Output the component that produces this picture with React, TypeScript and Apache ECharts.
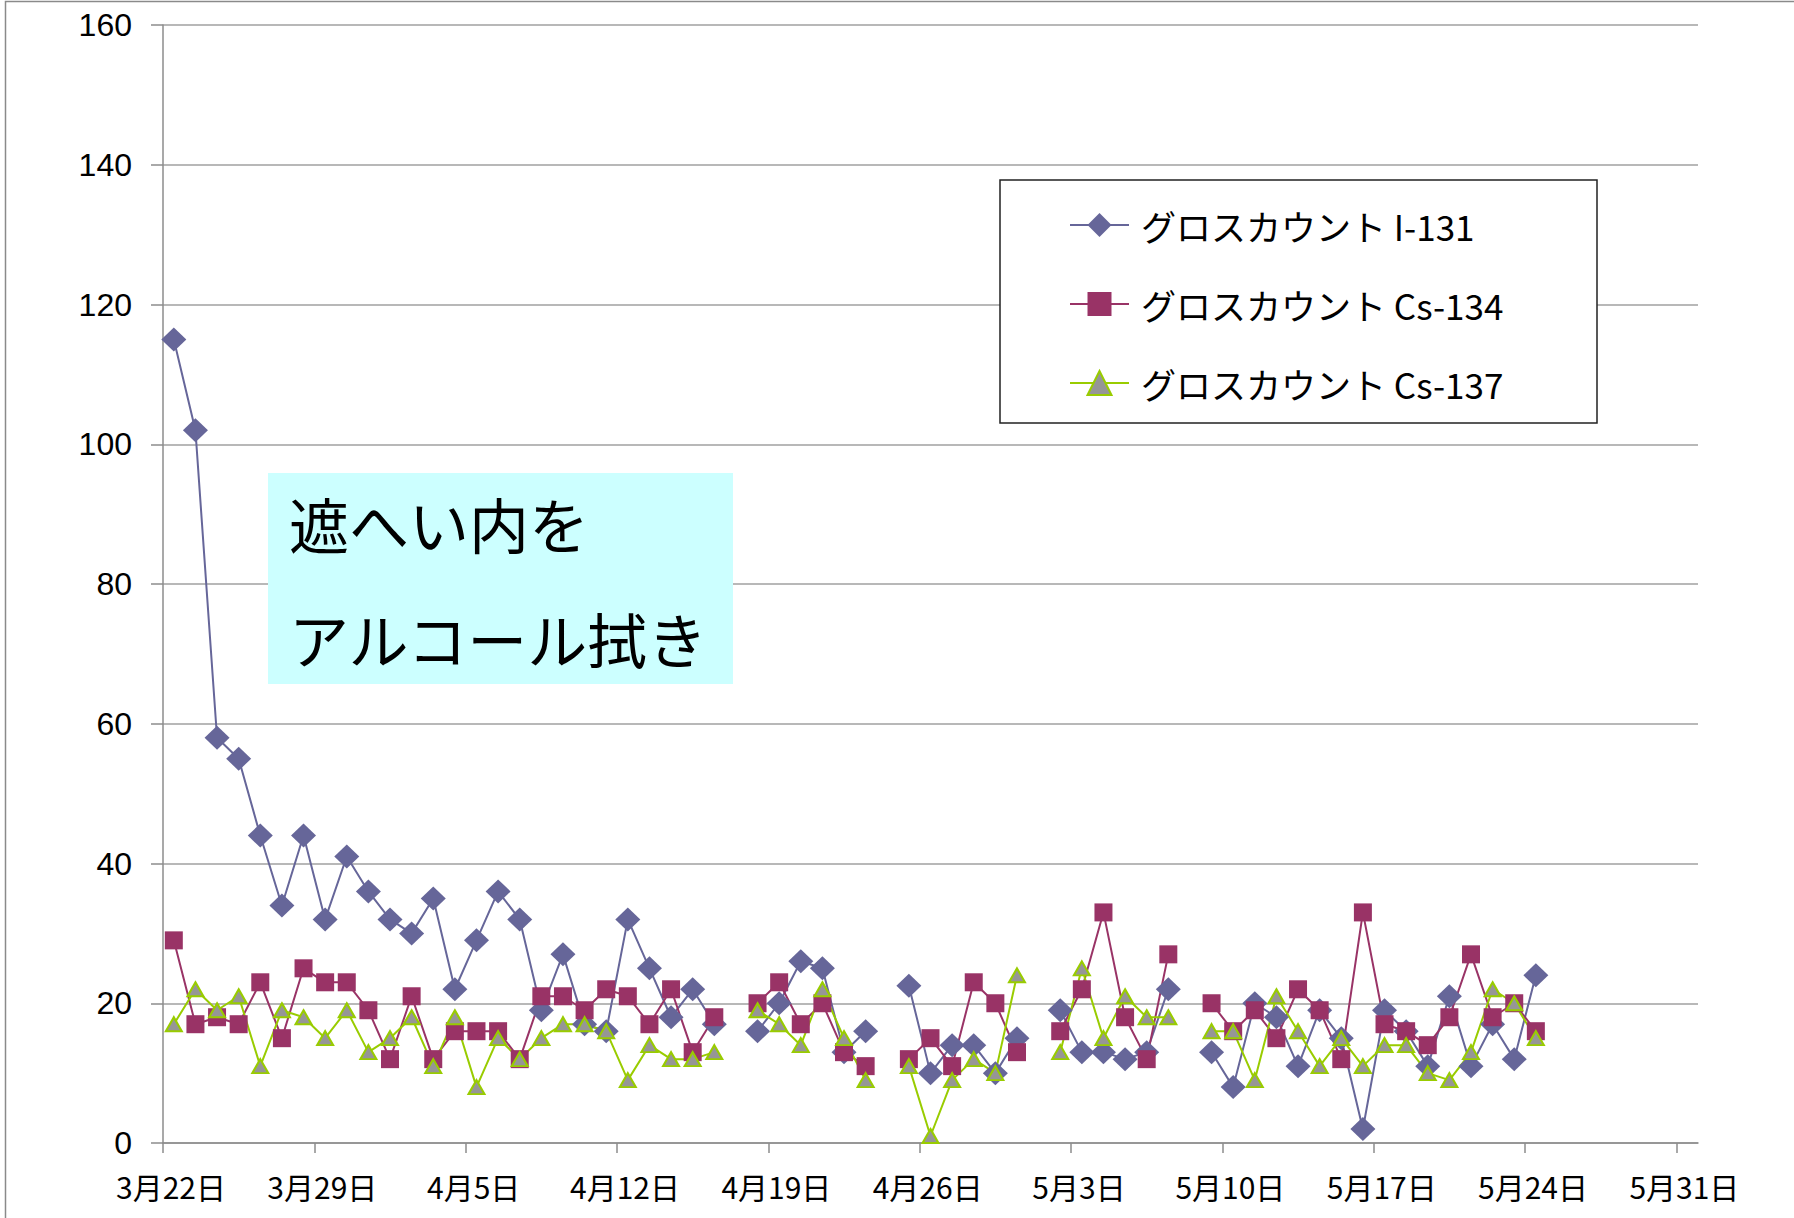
import React, { useEffect, useRef } from "react";
import * as echarts from "echarts";

// Year 2011, daily readings from 3/22 (null = no measurement that day)
const firstDay = "2011-03-22";
const axisEndDay = "2011-06-01";
const tickDates = [
  "2011-03-22", "2011-03-29", "2011-04-05", "2011-04-12", "2011-04-19", "2011-04-26",
  "2011-05-03", "2011-05-10", "2011-05-17", "2011-05-24", "2011-05-31",
];
const yTicks = [0, 20, 40, 60, 80, 100, 120, 140, 160];

const seriesNames = ["グロスカウント I-131", "グロスカウント Cs-134", "グロスカウント Cs-137"];

const i131 = [
  115, 102, 58, 55, 44, 34, 44, 32, 41, 36, 32, 30, 35, 22, 29, 36, 32, 19, 27, 17, 16, 32, 25, 18, 22, 17,
  null, 16, 20, 26, 25, 13, 16,
  null, 22.5, 10, 14, 14, 10, 15,
  null, 19, 13, 13, 12, 13, 22,
  null, 13, 8, 20, 18, 11, 19, 15, 2, 19, 16, 11, 21, 11, 17, 12, 24,
];
const cs134 = [
  29, 17, 18, 17, 23, 15, 25, 23, 23, 19, 12, 21, 12, 16, 16, 16, 12, 21, 21, 19, 22, 21, 17, 22, 13, 18,
  null, 20, 23, 17, 20, 13, 11,
  null, 12, 15, 11, 23, 20, 13,
  null, 16, 22, 33, 18, 12, 27,
  null, 20, 16, 19, 15, 22, 19, 12, 33, 17, 16, 14, 18, 27, 18, 20, 16,
];
const cs137 = [
  17, 22, 19, 21, 11, 19, 18, 15, 19, 13, 15, 18, 11, 18, 8, 15, 12, 15, 17, 17, 16, 9, 14, 12, 12, 13,
  null, 19, 17, 14, 22, 15, 9,
  null, 11, 1, 9, 12, 10, 24,
  null, 13, 25, 15, 21, 18, 18,
  null, 16, 16, 9, 21, 16, 11, 15, 11, 14, 14, 10, 9, 13, 22, 20, 15,
];

const DAY = 86400000;
const toUTC = (s: string) => {
  const [y, m, d] = s.split("-").map(Number);
  return Date.UTC(y, m - 1, d);
};

export default function App() {
  const ref = useRef<HTMLDivElement>(null);

  useEffect(() => {
    if (!ref.current) return;
    const chart = echarts.init(ref.current, undefined, { renderer: "svg" });
    const start = toUTC(firstDay);
    const toPoints = (arr: (number | null)[]) =>
      arr.map((v, i) => [start + i * DAY + DAY / 2, v === null ? null : v]);
    const ticks = tickDates.map(toUTC);
    const jp = '"Noto Sans CJK JP", sans-serif';

    chart.setOption({
      animation: false,
      backgroundColor: "#ffffff",
      grid: { left: 163, top: 25, right: 96, bottom: 75, containLabel: false },
      xAxis: {
        type: "value",
        min: start,
        max: toUTC(axisEndDay),
        axisLine: { show: true, lineStyle: { color: "#8c8c8c", width: 1.5 } },
        axisTick: { show: true, customValues: ticks, length: 10, lineStyle: { color: "#8c8c8c", width: 1.5 } },
        axisLabel: {
          customValues: ticks,
          margin: 28,
          fontSize: 30,
          fontFamily: jp,
          color: "#000",
          padding: [0, 0, 0, 16],
          formatter: (v: number) => {
            const d = new Date(v);
            return `${d.getUTCMonth() + 1}月${d.getUTCDate()}日`;
          },
        },
        splitLine: { show: false },
      },
      yAxis: {
        type: "value",
        min: yTicks[0],
        max: yTicks[yTicks.length - 1],
        interval: 20,
        axisLine: { show: true, lineStyle: { color: "#8c8c8c", width: 1.5 } },
        axisTick: { show: true, length: 12, lineStyle: { color: "#8c8c8c", width: 1.5 } },
        axisLabel: {
          margin: 31,
          fontSize: 32,
          fontFamily: '"Liberation Sans", Arial, sans-serif',
          color: "#000",
          padding: [6, 0, 0, 0],
        },
        splitLine: { show: true, lineStyle: { color: "#a0a0a0", width: 1.5 } },
      },
      legend: {
        orient: "vertical",
        left: 1069,
        top: 205,
        padding: 0,
        itemWidth: 59,
        itemHeight: 30,
        itemGap: 39,
        data: seriesNames,
        textStyle: { fontSize: 35, lineHeight: 40, fontFamily: jp, color: "#000", padding: [0, 0, 0, 7] },
      },
      graphic: [
        {
          type: "rect",
          z: 0,
          shape: { x: 5.5, y: 1.5, width: 1800, height: 1300 },
          style: { fill: "none", stroke: "#8a8a8a", lineWidth: 1.5 },
        },
        {
          type: "rect",
          z: 3,
          shape: { x: 1000, y: 180, width: 597, height: 243 },
          style: { fill: "#ffffff", stroke: "#222", lineWidth: 1.5 },
        },
        {
          type: "rect",
          z: 3,
          shape: { x: 268, y: 473, width: 465, height: 211 },
          style: { fill: "#CCFFFF" },
        },
        {
          type: "text",
          z: 5,
          x: 289,
          y: 522,
          style: { text: "遮へい内を", fontSize: 60, fontFamily: jp, fill: "#000", verticalAlign: "middle", align: "left" },
        },
        {
          type: "text",
          z: 5,
          x: 289,
          y: 637,
          style: { text: "アルコール拭き", fontSize: 60, fontFamily: jp, fill: "#000", verticalAlign: "middle", align: "left" },
        },
      ],
      series: [
        {
          name: seriesNames[0],
          type: "line",
          data: toPoints(i131),
          symbol: "diamond",
          symbolSize: [25, 24],
          lineStyle: { color: "#666699", width: 2 },
          itemStyle: { color: "#666699" },
        },
        {
          name: seriesNames[1],
          type: "line",
          data: toPoints(cs134),
          symbol: "rect",
          symbolSize: 18,
          lineStyle: { color: "#993366", width: 2 },
          itemStyle: { color: "#993366" },
        },
        {
          name: seriesNames[2],
          type: "line",
          data: toPoints(cs137),
          symbol: "triangle",
          symbolSize: [16, 14],
          lineStyle: { color: "#99CC00", width: 2 },
          itemStyle: { color: "#969696", borderColor: "#99CC00", borderWidth: 2 },
        },
      ],
    });
    return () => chart.dispose();
  }, []);

  return (
    <div
      ref={ref}
      style={{ position: "absolute", left: 0, top: 0, width: 1794, height: 1218, background: "#fff" }}
    />
  );
}
